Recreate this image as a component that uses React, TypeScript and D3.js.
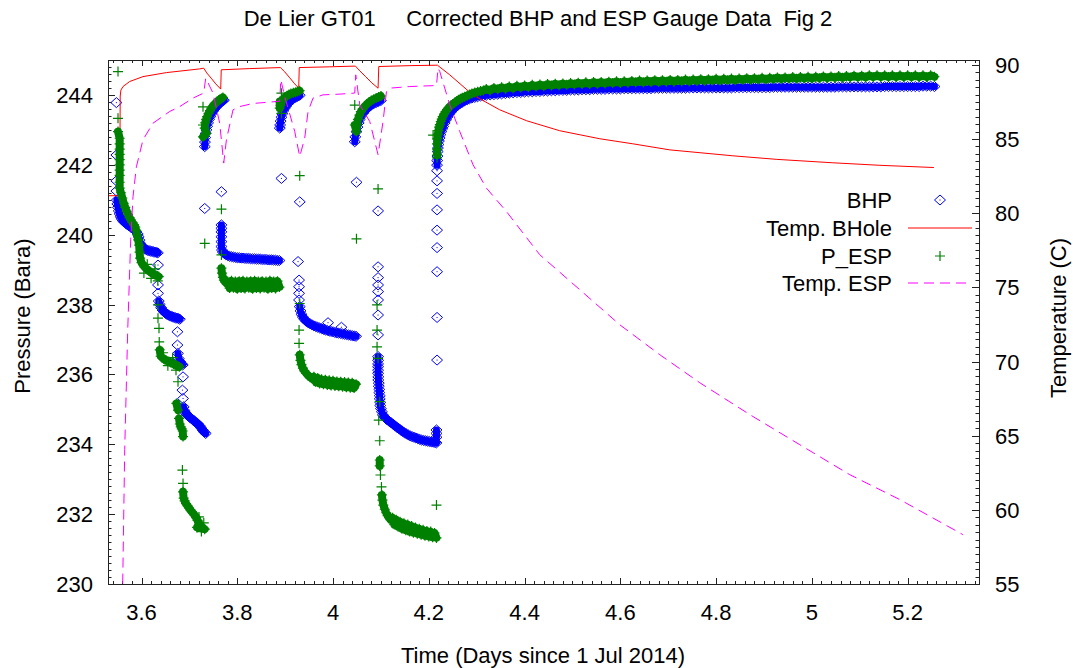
import React from 'react'
import * as d3 from 'd3'

// chart text
const title = 'De Lier GT01     Corrected BHP and ESP Gauge Data  Fig 2'
const xLabel = 'Time (Days since 1 Jul 2014)'
const yLabel = 'Pressure (Bara)'
const y2Label = 'Temperature (C)'
const dayTicks = [3.6, 3.8, 4, 4.2, 4.4, 4.6, 4.8, 5, 5.2]
const pressureTicks = [230, 232, 234, 236, 238, 240, 242, 244]
const temperatureTicks = [55, 60, 65, 70, 75, 80, 85, 90]
const legendLabels = ['BHP', 'Temp. BHole', 'P_ESP', 'Temp. ESP']

type Pt = [number, number]

// bottom hole pressure (bar) by phase, [day, bar]
const bhpFlow1: Pt[] = [
  [3.5475, 243.78], [3.5475, 242.28], [3.5475, 241.54], [3.5475, 241.25],
  [3.5485, 240.99], [3.5495, 240.88], [3.551, 240.78], [3.5525, 240.68], [3.554, 240.6], [3.556, 240.52],
  [3.558, 240.46], [3.561, 240.4], [3.564, 240.36], [3.567, 240.32], [3.57, 240.29], [3.574, 240.25],
  [3.578, 240.21], [3.582, 240.17], [3.586, 240.13], [3.589, 240.08], [3.592, 240.02], [3.594, 239.94],
  [3.596, 239.84], [3.598, 239.74], [3.601, 239.67], [3.604, 239.62], [3.607, 239.59], [3.61, 239.57],
  [3.613, 239.55], [3.616, 239.54], [3.619, 239.53], [3.622, 239.52], [3.625, 239.51], [3.628, 239.5],
  [3.631, 239.49], [3.634, 239.48],
  [3.6344, 239.13], [3.6344, 238.56], [3.6344, 238.32], [3.636, 238.1], [3.638, 238.0], [3.641, 237.91],
  [3.644, 237.84], [3.647, 237.79], [3.65, 237.75], [3.653, 237.72], [3.656, 237.7], [3.659, 237.68],
  [3.662, 237.66], [3.665, 237.65], [3.668, 237.63], [3.671, 237.62], [3.674, 237.61], [3.677, 237.6], [3.68, 237.58],
  [3.675, 237.22], [3.675, 236.84], [3.676, 236.6], [3.678, 236.45], [3.681, 236.36], [3.684, 236.3], [3.686, 236.27],
  [3.6867, 235.93], [3.6854, 235.55], [3.6867, 235.31], [3.688, 235.07], [3.69, 234.96], [3.692, 234.9],
  [3.695, 234.85], [3.698, 234.8], [3.701, 234.77], [3.704, 234.74], [3.707, 234.7], [3.71, 234.67],
  [3.713, 234.63], [3.716, 234.6], [3.719, 234.57], [3.722, 234.52], [3.725, 234.46], [3.728, 234.4],
  [3.731, 234.35], [3.734, 234.31],
]
const bhpShutin1: Pt[] = [
  [3.732, 242.52], [3.7325, 242.65], [3.733, 242.78], [3.734, 242.9], [3.7355, 243.0], [3.737, 243.1],
  [3.739, 243.2], [3.741, 243.3], [3.7435, 243.38], [3.746, 243.46], [3.749, 243.53], [3.752, 243.59],
  [3.755, 243.64], [3.758, 243.69], [3.761, 243.73], [3.764, 243.77], [3.767, 243.8], [3.77, 243.83], [3.772, 243.85],
  [3.732, 240.75], [3.7669, 241.23],
]
const bhpFlow2: Pt[] = [
  [3.7669, 240.28], [3.7669, 240.18], [3.7669, 240.08], [3.7669, 239.94], [3.7669, 239.8], [3.7669, 239.66],
  [3.768, 239.56], [3.77, 239.5], [3.773, 239.46], [3.776, 239.43], [3.78, 239.4], [3.784, 239.38],
  [3.788, 239.37], [3.792, 239.36], [3.796, 239.35], [3.8, 239.34], [3.804, 239.34], [3.808, 239.33],
  [3.812, 239.33], [3.816, 239.32], [3.82, 239.32], [3.824, 239.32], [3.828, 239.31], [3.832, 239.31],
  [3.836, 239.31], [3.84, 239.3], [3.844, 239.3], [3.848, 239.3], [3.852, 239.29], [3.856, 239.29],
  [3.86, 239.29], [3.864, 239.28], [3.868, 239.28], [3.872, 239.28], [3.876, 239.27], [3.88, 239.27],
  [3.884, 239.26], [3.888, 239.26],
]
const bhpShutin2: Pt[] = [
  [3.8887, 243.05], [3.8895, 243.14], [3.8905, 243.25], [3.8922, 243.36], [3.894, 243.46], [3.8965, 243.55],
  [3.8991, 243.62], [3.902, 243.68], [3.905, 243.74], [3.909, 243.8], [3.913, 243.85], [3.917, 243.89],
  [3.922, 243.93], [3.926, 243.96], [3.9304, 243.99],
  [3.8922, 241.61], [3.9304, 240.94],
]
const bhpFlow3: Pt[] = [
  [3.9269, 239.23], [3.929, 238.7], [3.929, 238.51], [3.929, 238.32], [3.929, 238.13], [3.9304, 237.94],
  [3.932, 237.82], [3.934, 237.72], [3.937, 237.64], [3.94, 237.58], [3.944, 237.52], [3.948, 237.48],
  [3.952, 237.45], [3.956, 237.42], [3.96, 237.39], [3.964, 237.37], [3.968, 237.35], [3.972, 237.33],
  [3.976, 237.31], [3.98, 237.29], [3.984, 237.27], [3.988, 237.26], [3.992, 237.24], [3.996, 237.23],
  [4.0, 237.22], [4.004, 237.2], [4.008, 237.19], [4.012, 237.18], [4.016, 237.17], [4.02, 237.16],
  [4.024, 237.15], [4.028, 237.14], [4.032, 237.13], [4.036, 237.12], [4.04, 237.11], [4.044, 237.1],
  [4.048, 237.09], [3.9895, 237.48], [4.0175, 237.35],
]
const bhpShutin3: Pt[] = [
  [4.0453, 242.66], [4.0465, 242.8], [4.0489, 242.95], [4.051, 243.08], [4.0535, 243.2], [4.0558, 243.3],
  [4.059, 243.4], [4.063, 243.48], [4.067, 243.55], [4.071, 243.61], [4.075, 243.66], [4.08, 243.71],
  [4.085, 243.75], [4.09, 243.78], [4.095, 243.81], [4.1, 243.84],
  [4.0489, 241.5], [4.094, 240.68], [4.094, 239.08],
]
const bhpFlow4: Pt[] = [
  [4.094, 238.77], [4.094, 238.56], [4.094, 238.37], [4.094, 238.13], [4.094, 237.7], [4.094, 237.13],
  [4.094, 236.51], [4.094, 236.4], [4.094, 236.3], [4.094, 236.22], [4.094, 236.12], [4.094, 236.03],
  [4.0945, 235.93], [4.0945, 235.84], [4.0955, 235.75], [4.0955, 235.66], [4.0965, 235.57], [4.0965, 235.48],
  [4.0975, 235.39], [4.0975, 235.3], [4.0985, 235.2], [4.0985, 235.11], [4.1, 235.02], [4.102, 234.93],
  [4.104, 234.84], [4.107, 234.78], [4.11, 234.74], [4.113, 234.7], [4.117, 234.66], [4.121, 234.62],
  [4.125, 234.58], [4.129, 234.53], [4.133, 234.49], [4.137, 234.45], [4.141, 234.41], [4.145, 234.37],
  [4.149, 234.33], [4.153, 234.3], [4.157, 234.27], [4.161, 234.24], [4.165, 234.22], [4.169, 234.2],
  [4.173, 234.18], [4.177, 234.16], [4.181, 234.14], [4.185, 234.12], [4.189, 234.11], [4.193, 234.1],
  [4.197, 234.09], [4.201, 234.08], [4.205, 234.07], [4.209, 234.06], [4.213, 234.05], [4.216, 234.04],
  [4.216, 234.2], [4.216, 234.31], [4.216, 234.41],
]
const bhpShutin4: Pt[] = [
  [4.2172, 236.41], [4.2172, 237.63], [4.2172, 238.94], [4.2172, 239.63], [4.2172, 240.13], [4.2172, 240.71],
  [4.2172, 241.18], [4.2172, 241.54], [4.2172, 241.83], [4.2172, 241.99], [4.2175, 242.12], [4.218, 242.25],
  [4.2185, 242.38], [4.219, 242.48], [4.22, 242.58], [4.221, 242.68], [4.2225, 242.77], [4.224, 242.86],
  [4.226, 242.95], [4.228, 243.03], [4.23, 243.1], [4.233, 243.2], [4.236, 243.29], [4.239, 243.37],
  [4.242, 243.44], [4.246, 243.51], [4.25, 243.58], [4.254, 243.63], [4.258, 243.68], [4.262, 243.72],
  [4.266, 243.76], [4.27, 243.79], [4.275, 243.83], [4.28, 243.86], [4.285, 243.89], [4.29, 243.91],
  [4.296, 243.93], [4.302, 243.95], [4.308, 243.97], [4.314, 243.98],
]

// ESP pressure (bar) by phase, [day, bar]
const espFlow1: Pt[] = [
  [3.5509, 244.67], [3.5509, 243.33], [3.5509, 242.95],
  [3.5544, 242.76], [3.5544, 242.6], [3.5544, 242.45], [3.5544, 242.3], [3.5544, 242.15], [3.5544, 242.0],
  [3.5544, 241.85], [3.5544, 241.7], [3.5544, 241.5], [3.5544, 241.33],
  [3.557, 241.2], [3.56, 241.05], [3.563, 240.9], [3.566, 240.78], [3.569, 240.67], [3.572, 240.58],
  [3.575, 240.49], [3.578, 240.42], [3.581, 240.35], [3.584, 240.29], [3.587, 240.22], [3.589, 240.12],
  [3.591, 239.99], [3.593, 239.85], [3.595, 239.7], [3.596, 239.5], [3.597, 239.33],
  [3.6, 239.2], [3.603, 239.14], [3.606, 239.08], [3.609, 239.04], [3.612, 239.0], [3.615, 238.97],
  [3.618, 238.94], [3.621, 238.91], [3.624, 238.88], [3.627, 238.86], [3.63, 238.84], [3.633, 238.82],
  [3.636, 238.8], [3.605, 238.9], [3.612, 239.15], [3.62, 238.75], [3.628, 239.02], [3.634, 238.68],
  [3.6344, 237.99], [3.6344, 237.61], [3.6365, 237.32], [3.637, 236.93], [3.638, 236.7],
  [3.64, 236.52], [3.643, 236.48], [3.646, 236.45], [3.649, 236.42], [3.652, 236.4], [3.655, 236.38],
  [3.658, 236.36], [3.661, 236.34], [3.664, 236.32], [3.667, 236.3], [3.67, 236.28], [3.673, 236.26],
  [3.676, 236.24], [3.679, 236.22], [3.645, 236.62], [3.655, 236.25], [3.665, 236.48], [3.672, 236.12],
  [3.6762, 235.79], [3.6729, 235.17], [3.6762, 234.98], [3.6783, 234.74], [3.68, 234.58], [3.682, 234.5],
  [3.684, 234.44], [3.686, 234.38], [3.6867, 234.22],
  [3.6854, 233.26], [3.6867, 232.88], [3.6867, 232.64], [3.688, 232.46], [3.69, 232.38], [3.693, 232.3],
  [3.696, 232.24], [3.699, 232.18], [3.702, 232.12], [3.705, 232.07], [3.708, 232.02], [3.711, 231.97],
  [3.714, 231.9], [3.717, 231.82], [3.72, 231.75], [3.723, 231.68], [3.726, 231.63], [3.729, 231.6],
  [3.732, 231.57], [3.716, 231.62], [3.72, 231.92], [3.725, 231.5], [3.73, 231.75],
]
const espShutin1: Pt[] = [
  [3.7284, 243.66], [3.7284, 243.14], [3.7284, 242.8], [3.7355, 242.9], [3.732, 243.05], [3.733, 243.2],
  [3.735, 243.3], [3.737, 243.38], [3.74, 243.47], [3.743, 243.55], [3.746, 243.62], [3.749, 243.68],
  [3.752, 243.73], [3.755, 243.77], [3.758, 243.81], [3.761, 243.85], [3.764, 243.88], [3.767, 243.9], [3.77, 243.93],
  [3.732, 239.75], [3.7669, 240.73],
]
const espFlow2: Pt[] = [
  [3.7669, 239.42], [3.7669, 239.04], [3.768, 238.9], [3.77, 238.78], [3.772, 238.7], [3.775, 238.64],
  [3.778, 238.6], [3.78, 238.66], [3.784, 238.47], [3.788, 238.68], [3.792, 238.48], [3.796, 238.66],
  [3.8, 238.45], [3.804, 238.67], [3.808, 238.47], [3.812, 238.68], [3.816, 238.46], [3.82, 238.66],
  [3.824, 238.48], [3.828, 238.67], [3.832, 238.45], [3.836, 238.68], [3.84, 238.47], [3.844, 238.66],
  [3.848, 238.46], [3.852, 238.67], [3.856, 238.48], [3.86, 238.66], [3.864, 238.45], [3.868, 238.68],
  [3.872, 238.47], [3.876, 238.66], [3.88, 238.46], [3.884, 238.67], [3.888, 238.5],
]
const espShutin2: Pt[] = [
  [3.8887, 243.62], [3.8887, 243.81], [3.8922, 243.47], [3.8922, 244.05], [3.8905, 243.7], [3.894, 243.85],
  [3.897, 243.9], [3.9, 243.94], [3.904, 243.98], [3.908, 244.01], [3.912, 244.04], [3.917, 244.06],
  [3.922, 244.08], [3.926, 244.1], [3.9304, 244.12], [3.9304, 241.69],
]
const espFlow3: Pt[] = [
  [3.9304, 238.03], [3.929, 237.27], [3.929, 236.89], [3.9304, 236.56], [3.932, 236.4], [3.934, 236.28],
  [3.937, 236.18], [3.94, 236.1], [3.944, 236.03], [3.948, 235.97], [3.952, 235.92], [3.956, 235.88],
  [3.96, 235.93], [3.964, 235.78], [3.968, 235.9], [3.972, 235.74], [3.976, 235.86], [3.98, 235.72],
  [3.984, 235.85], [3.988, 235.7], [3.992, 235.83], [3.996, 235.68], [4.0, 235.82], [4.004, 235.67],
  [4.008, 235.8], [4.012, 235.66], [4.016, 235.79], [4.02, 235.65], [4.024, 235.78], [4.028, 235.63],
  [4.032, 235.77], [4.036, 235.62], [4.04, 235.76], [4.044, 235.61], [4.048, 235.72],
]
const espShutin3: Pt[] = [
  [4.0453, 243.71], [4.0453, 243.14], [4.0489, 242.95], [4.05, 243.15], [4.052, 243.3], [4.055, 243.42],
  [4.058, 243.52], [4.062, 243.6], [4.066, 243.67], [4.07, 243.73], [4.075, 243.79], [4.08, 243.84],
  [4.085, 243.88], [4.09, 243.91], [4.095, 243.94], [4.1, 243.97],
  [4.0489, 239.88], [4.094, 241.31],
]
const espFlow4: Pt[] = [
  [4.0919, 237.99], [4.0919, 237.27], [4.0919, 236.79], [4.094, 236.46], [4.0975, 235.22], [4.0954, 234.69],
  [4.0975, 234.1], [4.0975, 233.55], [4.0975, 233.38], [4.099, 233.12], [4.1011, 232.78], [4.102, 232.55],
  [4.1032, 232.4], [4.105, 232.26], [4.108, 232.14], [4.111, 232.04], [4.114, 231.96], [4.117, 231.9],
  [4.12, 231.84], [4.124, 231.9], [4.128, 231.7], [4.132, 231.84], [4.136, 231.64], [4.14, 231.78],
  [4.144, 231.58], [4.148, 231.74], [4.152, 231.54], [4.156, 231.7], [4.16, 231.5], [4.164, 231.66],
  [4.168, 231.47], [4.172, 231.62], [4.176, 231.44], [4.18, 231.58], [4.184, 231.41], [4.188, 231.55],
  [4.192, 231.38], [4.196, 231.52], [4.2, 231.36], [4.204, 231.5], [4.208, 231.34], [4.212, 231.46],
  [4.216, 231.32], [4.216, 232.26],
]
const espShutin4: Pt[] = [
  [4.2089, 242.85], [4.2172, 242.28], [4.2172, 242.45], [4.2172, 242.2], [4.2172, 242.6], [4.218, 242.75],
  [4.219, 242.88], [4.22, 242.98], [4.2215, 243.08], [4.223, 243.15], [4.225, 243.24], [4.227, 243.31],
  [4.229, 243.38], [4.232, 243.45], [4.235, 243.52], [4.238, 243.58], [4.242, 243.64], [4.246, 243.7],
  [4.25, 243.74], [4.254, 243.78], [4.258, 243.82], [4.262, 243.86], [4.266, 243.89], [4.27, 243.92],
  [4.275, 243.95], [4.28, 243.98], [4.285, 244.01], [4.29, 244.04], [4.296, 244.07], [4.302, 244.09],
  [4.308, 244.11], [4.314, 244.13],
]

// long build-up after final shut-in: sample days with BHP and ESP readings
const recoveryDays = [
  4.32, 4.328, 4.336, 4.344, 4.352, 4.36, 4.368, 4.376, 4.384, 4.392, 4.4,
  4.408, 4.416, 4.424, 4.432, 4.44, 4.448, 4.456, 4.464, 4.472, 4.48, 4.488, 4.496, 4.504, 4.512, 4.52,
  4.528, 4.536, 4.544, 4.552, 4.56, 4.568, 4.576, 4.584, 4.592, 4.6,
  4.608, 4.616, 4.624, 4.632, 4.64, 4.648, 4.656, 4.664, 4.672, 4.68, 4.688, 4.696, 4.704, 4.712, 4.72,
  4.728, 4.736, 4.744, 4.752, 4.76, 4.768, 4.776, 4.784, 4.792, 4.8,
  4.808, 4.816, 4.824, 4.832, 4.84, 4.848, 4.856, 4.864, 4.872, 4.88, 4.888, 4.896, 4.904, 4.912, 4.92,
  4.928, 4.936, 4.944, 4.952, 4.96, 4.968, 4.976, 4.984, 4.992, 5.0,
  5.008, 5.016, 5.024, 5.032, 5.04, 5.048, 5.056, 5.064, 5.072, 5.08, 5.088, 5.096, 5.104, 5.112, 5.12,
  5.128, 5.136, 5.144, 5.152, 5.16, 5.168, 5.176, 5.184, 5.192, 5.2, 5.208, 5.216, 5.224, 5.232, 5.24,
  5.248, 5.256,
]
const recoveryBHP = [
  243.99, 244.0, 244.01, 244.02, 244.03, 244.04, 244.05, 244.06, 244.07, 244.07, 244.08,
  244.09, 244.09, 244.1, 244.1, 244.11, 244.11, 244.12, 244.12, 244.13, 244.13, 244.13, 244.14, 244.14, 244.14, 244.15,
  244.15, 244.15, 244.16, 244.16, 244.16, 244.16, 244.17, 244.17, 244.17, 244.17,
  244.18, 244.18, 244.18, 244.18, 244.18, 244.18, 244.18, 244.18, 244.19, 244.19, 244.19, 244.19, 244.19, 244.19, 244.19,
  244.19, 244.19, 244.2, 244.2, 244.2, 244.2, 244.2, 244.2, 244.2, 244.2,
  244.2, 244.2, 244.2, 244.2, 244.21, 244.21, 244.21, 244.21, 244.21, 244.21, 244.21, 244.21, 244.21, 244.21, 244.22,
  244.22, 244.22, 244.22, 244.22, 244.22, 244.22, 244.22, 244.22, 244.22, 244.22,
  244.22, 244.22, 244.22, 244.22, 244.22, 244.22, 244.23, 244.23, 244.23, 244.23, 244.23, 244.23, 244.23, 244.23, 244.23,
  244.23, 244.23, 244.23, 244.24, 244.24, 244.24, 244.24, 244.24, 244.24, 244.24, 244.24, 244.24, 244.24, 244.25, 244.25,
  244.25, 244.24,
]
const recoveryESP = [
  244.17, 244.13, 244.2, 244.16, 244.22, 244.18, 244.24, 244.19, 244.26, 244.21, 244.27,
  244.22, 244.29, 244.24, 244.3, 244.25, 244.31, 244.27, 244.32, 244.28, 244.33, 244.29, 244.34, 244.3, 244.35, 244.31,
  244.36, 244.31, 244.37, 244.32, 244.37, 244.33, 244.38, 244.34, 244.39, 244.34,
  244.39, 244.35, 244.4, 244.36, 244.41, 244.36, 244.41, 244.37, 244.42, 244.37, 244.42, 244.38, 244.43, 244.38, 244.43,
  244.39, 244.44, 244.39, 244.44, 244.4, 244.45, 244.4, 244.45, 244.41, 244.46,
  244.41, 244.46, 244.42, 244.47, 244.42, 244.47, 244.43, 244.48, 244.43, 244.48, 244.44, 244.49, 244.44, 244.49, 244.45,
  244.5, 244.45, 244.5, 244.46, 244.51, 244.46, 244.51, 244.47, 244.52, 244.47,
  244.52, 244.48, 244.53, 244.48, 244.53, 244.49, 244.54, 244.49, 244.54, 244.5, 244.55, 244.5, 244.55, 244.5, 244.56,
  244.51, 244.56, 244.51, 244.56, 244.51, 244.56, 244.51, 244.56, 244.51, 244.56, 244.51, 244.56, 244.51, 244.56, 244.51,
  244.56, 244.52,
]

// temperatures (deg C), [day, C]
const tempBHole: Pt[] = [
  [3.53, 81.18], [3.5544, 81.18], [3.5555, 87.9], [3.557, 88.3], [3.5613, 88.54], [3.5753, 88.88],
  [3.6031, 89.21], [3.652, 89.48], [3.7215, 89.73], [3.7299, 89.78],
  [3.7362, 89.46], [3.7466, 89.06], [3.755, 88.72], [3.7654, 88.37],
  [3.7665, 89.67], [3.826, 89.75], [3.8901, 89.82],
  [3.8991, 89.53], [3.9095, 89.13], [3.92, 88.72], [3.9283, 88.43],
  [3.9294, 89.82], [3.9931, 89.87], [4.0468, 89.92],
  [4.0558, 89.6], [4.0683, 89.2], [4.0809, 88.79], [4.094, 88.43],
  [4.0955, 89.89], [4.1602, 89.95], [4.218, 89.98],
  [4.2437, 89.33], [4.2918, 87.98], [4.3482, 86.97], [4.4046, 86.23], [4.4735, 85.56], [4.5571, 85.02],
  [4.626, 84.68], [4.7033, 84.27], [4.8349, 83.87], [4.9268, 83.63], [5.0438, 83.4], [5.142, 83.23], [5.2548, 83.08],
]
const tempESP: Pt[] = [
  [3.5607, 55.03], [3.5649, 64.06], [3.5712, 72.14], [3.5774, 78.21], [3.5822, 81.11], [3.5893, 83.13],
  [3.6031, 84.95], [3.624, 86.07], [3.6589, 86.86], [3.6798, 87.19], [3.7076, 87.76], [3.7299, 88.1],
  [3.7341, 89.11], [3.7493, 88.1], [3.7633, 86.07], [3.7717, 83.38], [3.7773, 84.95], [3.7911, 86.97],
  [3.8051, 87.19], [3.8329, 87.4], [3.8818, 87.53], [3.8887, 87.55], [3.8908, 89.0], [3.9012, 87.6],
  [3.906, 87.09], [3.92, 85.51], [3.9304, 83.82], [3.9408, 85.06], [3.9478, 86.86], [3.9582, 87.76],
  [3.9791, 87.98], [4.0144, 88.03], [4.0453, 88.1], [4.0474, 89.33], [4.0558, 87.31], [4.0767, 86.18],
  [4.094, 83.94], [4.1044, 86.18], [4.1115, 88.2], [4.1184, 88.43], [4.1602, 88.54], [4.216, 88.61],
  [4.2193, 89.78], [4.2229, 89.55], [4.2437, 87.31], [4.2646, 85.51], [4.2924, 83.26], [4.3204, 81.69],
  [4.3622, 80.11], [4.4317, 77.2], [4.5153, 74.84], [4.5988, 72.48], [4.6824, 70.46], [4.7659, 68.57],
  [4.8704, 66.42], [4.9748, 64.39], [5.0792, 62.37], [5.1837, 60.69], [5.3153, 58.33],
]

const font = '"Liberation Sans", Arial, Helvetica, sans-serif'

// group neighbouring samples (in screen space) so dense runs render as a solid band
function denseRuns(points: [number, number][], maxGap: number) {
  const runs: [number, number][][] = []
  let cur: [number, number][] = []
  points.forEach((p, i) => {
    if (i > 0) {
      const q = points[i - 1]
      if (Math.hypot(p[0] - q[0], p[1] - q[1]) > maxGap) {
        if (cur.length > 1) runs.push(cur)
        cur = []
      }
    }
    cur.push(p)
  })
  if (cur.length > 1) runs.push(cur)
  return runs
}

export default function App() {
  const width = 1073
  const height = 668
  const left = 108, right = 979, top = 60, bottom = 584

  const x = d3.scaleLinear().domain([3.53, 5.349]).range([left, right])
  const yP = d3.scaleLinear().domain([230, 245]).range([bottom, top])
  const yT = d3.scaleLinear().domain([55, 90.33]).range([bottom, top])

  const bhp: Pt[] = [
    ...bhpFlow1, ...bhpShutin1, ...bhpFlow2, ...bhpShutin2, ...bhpFlow3, ...bhpShutin3, ...bhpFlow4, ...bhpShutin4,
    ...recoveryDays.map((d, i) => [d, recoveryBHP[i]] as Pt),
  ]
  const esp: Pt[] = [
    ...espFlow1, ...espShutin1, ...espFlow2, ...espShutin2, ...espFlow3, ...espShutin3, ...espFlow4, ...espShutin4,
    ...recoveryDays.map((d, i) => [d, recoveryESP[i]] as Pt),
  ]
  const bhpPx = bhp.map(d => [x(d[0]), yP(d[1])] as [number, number])
  const espPx = esp.map(d => [x(d[0]), yP(d[1])] as [number, number])
  const pxLine = d3.line<[number, number]>()
  const bhpBands = denseRuns(bhpPx, 5.5)
  const espBands = denseRuns(espPx, 8)

  const tempLine = d3.line<Pt>().x(d => x(d[0])).y(d => yT(d[1]))

  // minor tick positions
  const xMinor = d3.range(177, 268).map(i => i / 50)
  const pMinor = d3.range(1150, 1226).map(i => i / 5)
  const tMinor = d3.range(110, 181).map(i => i / 2)

  const diamond = 'M0,-5L5.5,0L0,5L-5.5,0Z'
  const plus = 'M-5,0H5M0,-5V5'
  const blue = '#0000ff', green = '#008000', red = '#ff0000', magenta = '#ff00ff'
  const axisColor = '#222'

  const legendY = [200, 228, 256, 283]

  return (
    <svg width={width} height={height} style={{ position: 'absolute', left: 0, top: 0, display: 'block', background: '#fff' }}
      fontFamily={font}>
      <defs>
        <clipPath id="plot-area">
          <rect x={left} y={top} width={right - left} height={bottom - top} />
        </clipPath>
      </defs>
      <rect width={width} height={height} fill="#fff" />

      <text x={538} y={26} fontSize={22} textAnchor="middle" style={{ whiteSpace: 'pre' }}>{title}</text>

      {/* ticks */}
      <g stroke={axisColor} strokeWidth={1}>
        {xMinor.map(v => (
          <g key={'xm' + v}>
            <line x1={Math.round(x(v)) + 0.5} x2={Math.round(x(v)) + 0.5} y1={bottom} y2={bottom - 3} />
            <line x1={Math.round(x(v)) + 0.5} x2={Math.round(x(v)) + 0.5} y1={top} y2={top + 3} />
          </g>
        ))}
        {dayTicks.map(v => (
          <g key={'xM' + v}>
            <line x1={Math.round(x(v)) + 0.5} x2={Math.round(x(v)) + 0.5} y1={bottom} y2={bottom - 6} />
            <line x1={Math.round(x(v)) + 0.5} x2={Math.round(x(v)) + 0.5} y1={top} y2={top + 6} />
          </g>
        ))}
        {pMinor.map(v => (
          <line key={'pm' + v} x1={left} x2={left + 3.5} y1={Math.round(yP(v)) + 0.5} y2={Math.round(yP(v)) + 0.5} />
        ))}
        {pressureTicks.map(v => (
          <line key={'pM' + v} x1={left} x2={left + 7} y1={Math.round(yP(v)) + 0.5} y2={Math.round(yP(v)) + 0.5} />
        ))}
        {tMinor.map(v => (
          <line key={'tm' + v} x1={right} x2={right - 3.5} y1={Math.round(yT(v)) + 0.5} y2={Math.round(yT(v)) + 0.5} />
        ))}
        {temperatureTicks.map(v => (
          <line key={'tM' + v} x1={right} x2={right - 7} y1={Math.round(yT(v)) + 0.5} y2={Math.round(yT(v)) + 0.5} />
        ))}
      </g>

      {/* tick labels */}
      <g fontSize={22} fill="#000">
        {dayTicks.map(v => (
          <text key={'xl' + v} x={x(v)} y={620} textAnchor="middle">{String(v)}</text>
        ))}
        {pressureTicks.map(v => (
          <text key={'pl' + v} x={93} y={yP(v) + 8} textAnchor="end">{String(v)}</text>
        ))}
        {temperatureTicks.map(v => (
          <text key={'tl' + v} x={995} y={yT(v) + 8} textAnchor="start">{String(v)}</text>
        ))}
      </g>

      {/* axis titles */}
      <text x={543} y={663} fontSize={22} textAnchor="middle">{xLabel}</text>
      <text transform="translate(30,316) rotate(-90)" fontSize={22} textAnchor="middle">{yLabel}</text>
      <text transform="translate(1066,318) rotate(-90)" fontSize={22} textAnchor="middle">{y2Label}</text>

      {/* data */}
      <g clipPath="url(#plot-area)">
        <g fill="none" stroke={blue} strokeWidth={7} strokeLinejoin="round" strokeLinecap="round">
          {bhpBands.map((run, i) => <path key={'bb' + i} d={pxLine(run) ?? ''} />)}
        </g>
        <g fill="none" stroke={blue} strokeWidth={1}>
          {bhpPx.map((p, i) => (
            <g key={'b' + i} transform={`translate(${p[0]},${p[1]})`}>
              <path d={diamond} />
              <rect x={-0.5} y={-0.5} width={1} height={1} fill={blue} stroke="none" />
            </g>
          ))}
        </g>
        <path d={tempLine(tempBHole) ?? ''} fill="none" stroke={red} strokeWidth={1} />
        <g fill="none" stroke={green} strokeWidth={8} strokeLinejoin="round" strokeLinecap="round">
          {espBands.map((run, i) => <path key={'gb' + i} d={pxLine(run) ?? ''} />)}
        </g>
        <g fill="none" stroke={green} strokeWidth={1.2}>
          {espPx.map((p, i) => (
            <path key={'g' + i} d={plus} transform={`translate(${p[0]},${p[1]})`} />
          ))}
        </g>
        <path d={tempLine(tempESP) ?? ''} fill="none" stroke={magenta} strokeWidth={1} strokeDasharray="10,6" />
      </g>

      {/* legend */}
      <g fontSize={22}>
        {legendLabels.map((label, i) => (
          <text key={label} x={892} y={legendY[i] + 8} textAnchor="end">{label}</text>
        ))}
        <g transform={`translate(940,${legendY[0]})`} stroke={blue} fill="none">
          <path d={diamond} />
          <rect x={-0.5} y={-0.5} width={1} height={1} fill={blue} stroke="none" />
        </g>
        <line x1={908} x2={972} y1={legendY[1]} y2={legendY[1]} stroke={red} />
        <path d={plus} transform={`translate(940,${legendY[2]})`} stroke={green} strokeWidth={1.2} />
        <line x1={908} x2={972} y1={legendY[3]} y2={legendY[3]} stroke={magenta} strokeDasharray="10,6" />
      </g>

      <rect x={left + 0.5} y={top + 0.5} width={right - left} height={bottom - top} fill="none" stroke={axisColor} />
    </svg>
  )
}
